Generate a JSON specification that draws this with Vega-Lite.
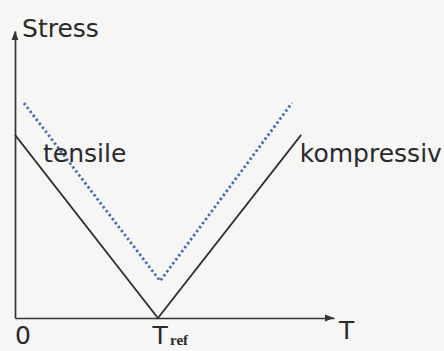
{
  "$schema": "https://vega.github.io/schema/vega-lite/v6.json",
  "width": 319,
  "height": 287,
  "autosize": "none",
  "padding": {"left": 15, "top": 31, "right": 110, "bottom": 33},
  "background": "#f6f6f4",
  "config": {
    "view": {"stroke": null},
    "axis": {"grid": false, "ticks": false, "labels": false, "title": null, "domainColor": "#333333", "domainWidth": 1.7}
  },
  "datasets": {
    "curves": [
      {"series": "solid", "T": 0, "S": 6.38},
      {"series": "solid", "T": 4.48, "S": 0},
      {"series": "solid", "T": 8.97, "S": 6.38},
      {"series": "dotted", "T": 0.28, "S": 7.49},
      {"series": "dotted", "T": 4.55, "S": 1.29},
      {"series": "dotted", "T": 8.68, "S": 7.49}
    ],
    "labels": [
      {"label": "Stress", "T": 0.22, "S": 9.79},
      {"label": "tensile", "T": 0.88, "S": 5.44},
      {"label": "kompressiv", "T": 8.93, "S": 5.44},
      {"label": "0", "T": 0, "S": -0.91},
      {"label": "T", "T": 4.31, "S": -0.91},
      {"label": "T", "T": 10.16, "S": -0.73}
    ],
    "sub": [
      {"label": "ref", "T": 4.86, "S": -0.94}
    ],
    "arrows": [
      {"axis": "x", "T": 10, "S": 0},
      {"axis": "y", "T": 0, "S": 10}
    ]
  },
  "encoding": {
    "x": {"field": "T", "type": "quantitative", "scale": {"domain": [0, 10], "nice": false, "zero": false}, "axis": {"orient": "bottom"}},
    "y": {"field": "S", "type": "quantitative", "scale": {"domain": [0, 10], "nice": false, "zero": false}, "axis": {"orient": "left"}}
  },
  "layer": [
    {
      "data": {"name": "curves"},
      "transform": [{"filter": "datum.series === 'dotted'"}],
      "mark": {"type": "line", "color": "#3f6fb8", "strokeWidth": 2.8, "strokeDash": [2.4, 2.6], "strokeCap": "butt"}
    },
    {
      "data": {"name": "curves"},
      "transform": [{"filter": "datum.series === 'solid'"}],
      "mark": {"type": "line", "color": "#2e2e2e", "strokeWidth": 1.7}
    },
    {
      "data": {"name": "arrows"},
      "transform": [{"filter": "datum.axis === 'x'"}],
      "mark": {"type": "point", "filled": true, "opacity": 1, "color": "#333333", "size": 324, "shape": "M-1,-0.38L0,0L-1,0.38Z"}
    },
    {
      "data": {"name": "arrows"},
      "transform": [{"filter": "datum.axis === 'y'"}],
      "mark": {"type": "point", "filled": true, "opacity": 1, "color": "#333333", "size": 324, "shape": "M-0.38,1L0,0L0.38,1Z"}
    },
    {
      "data": {"name": "labels"},
      "mark": {"type": "text", "align": "left", "baseline": "alphabetic", "font": "DejaVu Sans", "fontSize": 25, "color": "#2a2a2a"},
      "encoding": {"text": {"field": "label"}}
    },
    {
      "data": {"name": "sub"},
      "mark": {"type": "text", "align": "left", "baseline": "alphabetic", "font": "Liberation Serif", "fontWeight": "bold", "fontSize": 15, "color": "#2a2a2a"},
      "encoding": {"text": {"field": "label"}}
    }
  ]
}
